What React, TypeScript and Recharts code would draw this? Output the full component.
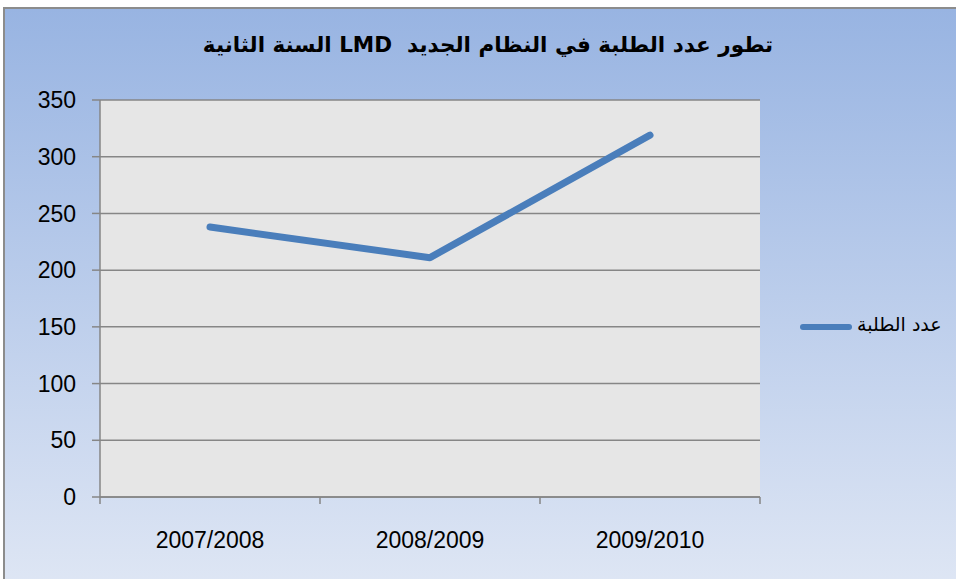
import React from 'react';
import { LineChart, Line, XAxis, YAxis, CartesianGrid } from 'recharts';

const years = ['2007/2008', '2008/2009', '2009/2010'];
const students = [238, 211, 319];
const yTicks = [0, 50, 100, 150, 200, 250, 300, 350];
const seriesName = 'عدد الطلبة';
const titleText = 'تطور عدد الطلبة في النظام الجديد  LMD السنة الثانية';

const data = years.map((y, i) => ({ year: y, value: students[i] }));

const HALF_BAND = 110;

const XTick = (props: any) => {
  const { x, y, payload, index, visibleTicksCount } = props;
  const last = index === (visibleTicksCount ?? years.length) - 1;
  return (
    <g>
      <line x1={x - HALF_BAND} y1={y} x2={x - HALF_BAND} y2={y + 7} stroke="#868686" strokeWidth={1.5} />
      {last && <line x1={x + HALF_BAND} y1={y} x2={x + HALF_BAND} y2={y + 7} stroke="#868686" strokeWidth={1.5} />}
      <text x={x} y={y + 51} textAnchor="middle" fontFamily="Liberation Sans" fontSize={23} fill="#000">
        {payload.value}
      </text>
    </g>
  );
};

export default function App() {
  return (
    <div style={{ position: 'absolute', left: 0, top: 0, width: 956, height: 579, overflow: 'hidden' }}>
      <div
        style={{
          position: 'absolute',
          left: 3,
          top: 7,
          width: 1000,
          height: 600,
          border: '2px solid #8c8c8c',
          background: 'linear-gradient(to bottom, #98b4e2 0%, #e1e8f5 100%)',
        }}
      />
      <div
        style={{
          position: 'absolute',
          left: 0,
          width: 976,
          top: 32,
          textAlign: 'center',
          direction: 'rtl',
          fontFamily: '"DejaVu Sans", sans-serif',
          fontWeight: 'bold',
          fontSize: 21.5,
          color: '#000',
          whiteSpace: 'pre',
        }}
      >
        {titleText}
      </div>
      <div
        style={{
          position: 'absolute',
          left: 800,
          top: 324,
          width: 52,
          height: 6,
          borderRadius: 3,
          background: '#4a7ebb',
        }}
      />
      <div
        style={{
          position: 'absolute',
          left: 857,
          top: 313,
          fontFamily: '"DejaVu Sans", sans-serif',
          fontSize: 19,
          color: '#000',
          direction: 'rtl',
          whiteSpace: 'pre',
        }}
      >
        {seriesName}
      </div>
      <div style={{ position: 'absolute', left: 0, top: 0 }}>
        <LineChart width={956} height={579} data={data} margin={{ top: 100, right: 196, left: 0, bottom: 0 }}>
          <CartesianGrid vertical={false} stroke="#868686" strokeWidth={1.5} fill="#e6e6e6" />
          <XAxis
            dataKey="year"
            scale="band"
            height={82}
            axisLine={{ stroke: '#868686', strokeWidth: 1.5 }}
            tickLine={false}
            tickSize={0}
            tickMargin={0}
            tick={<XTick />}
            interval={0}
          />
          <YAxis
            width={100}
            domain={[0, 350]}
            ticks={yTicks}
            interval={0}
            axisLine={{ stroke: '#868686', strokeWidth: 1.5 }}
            tickLine={{ stroke: '#868686', strokeWidth: 1.5 }}
            tickSize={8}
            tickMargin={16}
            tick={{ fontFamily: 'Liberation Sans', fontSize: 23, fill: '#000' }}
          />
          <Line
            type="linear"
            dataKey="value"
            name={seriesName}
            stroke="#4a7ebb"
            strokeWidth={7}
            strokeLinecap="round"
            strokeLinejoin="round"
            dot={false}
            activeDot={false}
            isAnimationActive={false}
          />
        </LineChart>
      </div>
    </div>
  );
}
